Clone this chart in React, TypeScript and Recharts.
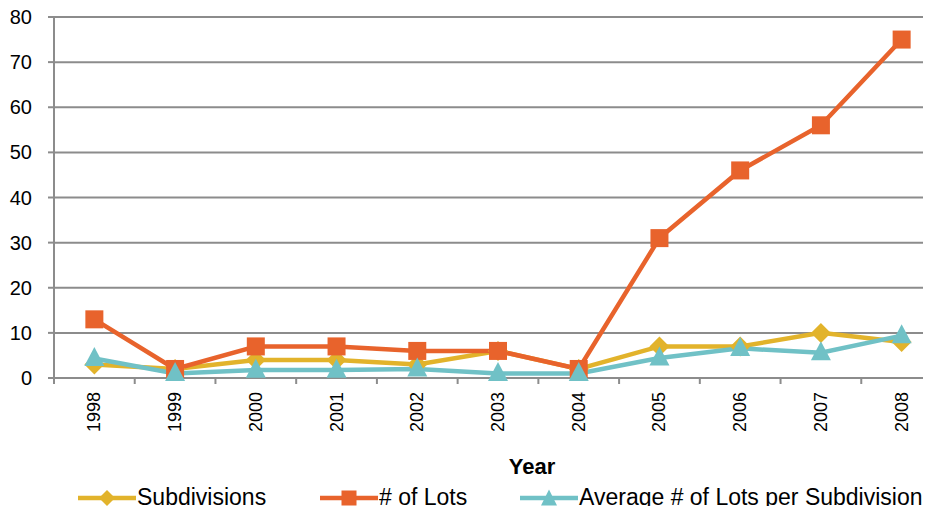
import { ComposedChart, Line, XAxis, YAxis, CartesianGrid, Legend, Label } from 'recharts'

const years = ['1998', '1999', '2000', '2001', '2002', '2003', '2004', '2005', '2006', '2007', '2008']
const subdivisions = [3, 2, 4, 4, 3, 6, 2, 7, 7, 10, 8]
const lots = [13, 2, 7, 7, 6, 6, 2, 31, 46, 56, 75]
const avgLots = [4.33, 1, 1.75, 1.75, 2, 1, 1, 4.43, 6.57, 5.6, 9.38]
const yTicks = [0, 10, 20, 30, 40, 50, 60, 70, 80]

const data = years.map((year, i) => ({
    year,
    subdivisions: subdivisions[i],
    lots: lots[i],
    avg: avgLots[i],
}))

const GOLD = '#E2B32B'
const ORANGE = '#E8632C'
const TEAL = '#70C1C6'
const GRID = '#8C8C8C'
const FONT = '"Liberation Sans", Arial, sans-serif'

const CHART_W = 942
const CHART_H = 514
const Y_AXIS_W = 54
const HALF_STEP = (CHART_W - Y_AXIS_W) / years.length / 2

const Diamond = ({ cx, cy, r = 10, color = GOLD }: any) => (
    <path d={`M${cx},${cy - r}L${cx + r},${cy}L${cx},${cy + r}L${cx - r},${cy}Z`} fill={color} />
)
const Square = ({ cx, cy, s = 18, color = ORANGE }: any) => (
    <rect x={cx - s / 2} y={cy - s / 2} width={s} height={s} fill={color} />
)
const Triangle = ({ cx, cy, w = 20, h = 19, color = TEAL }: any) => (
    <path d={`M${cx},${cy - h * 0.6}L${cx + w / 2},${cy + h * 0.4}L${cx - w / 2},${cy + h * 0.4}Z`} fill={color} />
)

const XTick = ({ x, y, payload, index }: any) => (
    <g>
        <line x1={x - HALF_STEP} x2={x - HALF_STEP} y1={y} y2={y + 6} stroke={GRID} strokeWidth={2} />
        {index === years.length - 1 && (
            <line x1={x + HALF_STEP} x2={x + HALF_STEP} y1={y} y2={y + 6} stroke={GRID} strokeWidth={2} />
        )}
        <text
            x={x}
            y={y + 14}
            transform={`rotate(-90, ${x}, ${y + 14})`}
            textAnchor="end"
            dominantBaseline="central"
            fontSize={18}
            fontFamily={FONT}
            fill="#000"
        >
            {payload.value}
        </text>
    </g>
)

const legendItems = [
    { label: 'Subdivisions', left: 78, color: GOLD, marker: 'diamond' },
    { label: '# of Lots', left: 320, color: ORANGE, marker: 'square' },
    { label: 'Average # of Lots per Subdivision', left: 520, color: TEAL, marker: 'triangle' },
]

const CustomLegend = () => (
    <div style={{ position: 'relative', width: CHART_W, height: 36 }}>
        {legendItems.map((item) => (
            <div
                key={item.label}
                style={{
                    position: 'absolute',
                    left: item.left,
                    top: 6,
                    display: 'flex',
                    alignItems: 'center',
                    whiteSpace: 'nowrap',
                }}
            >
                <svg width={58} height={22}>
                    <line x1={0} x2={58} y1={11} y2={11} stroke={item.color} strokeWidth={4.5} />
                    {item.marker === 'diamond' && <Diamond cx={29} cy={11} r={8} color={item.color} />}
                    {item.marker === 'square' && <Square cx={29} cy={11} s={15} color={item.color} />}
                    {item.marker === 'triangle' && <Triangle cx={29} cy={12} w={16} h={16} color={item.color} />}
                </svg>
                <span style={{ fontSize: 23, fontFamily: FONT, color: '#000', marginLeft: 1 }}>{item.label}</span>
            </div>
        ))}
    </div>
)

export default function App() {
    return (
        <div style={{ margin: -8, width: CHART_W, height: CHART_H, background: '#fff' }}>
            <ComposedChart
                width={CHART_W}
                height={CHART_H}
                data={data}
                margin={{ top: 17, right: 0, bottom: 0, left: 0 }}
            >
                <CartesianGrid vertical={false} stroke={GRID} strokeWidth={2} />
                <XAxis
                    dataKey="year"
                    scale="band"
                    height={100}
                    axisLine={{ stroke: GRID, strokeWidth: 2 }}
                    tickLine={false}
                    tickSize={0}
                    tickMargin={0}
                    interval={0}
                    tick={<XTick />}
                >
                    <Label
                        value="Year"
                        position="insideBottom"
                        offset={4}
                        dx={34}
                        style={{ fontSize: 22, fontWeight: 'bold', fontFamily: FONT, fill: '#000' }}
                    />
                </XAxis>
                <YAxis
                    width={Y_AXIS_W}
                    domain={[0, 80]}
                    ticks={yTicks}
                    interval={0}
                    axisLine={{ stroke: GRID, strokeWidth: 2 }}
                    tickLine={{ stroke: GRID, strokeWidth: 2 }}
                    tickSize={6}
                    tickMargin={16}
                    tick={{ fontSize: 20, fontFamily: FONT, fill: '#000' }}
                />
                <Legend verticalAlign="bottom" content={<CustomLegend />} wrapperStyle={{ left: 0, width: CHART_W }} />
                <Line
                    dataKey="subdivisions"
                    name="Subdivisions"
                    stroke={GOLD}
                    strokeWidth={4.5}
                    isAnimationActive={false}
                    dot={(p: any) => <Diamond key={`d${p.index}`} cx={p.cx} cy={p.cy} />}
                    activeDot={false}
                />
                <Line
                    dataKey="lots"
                    name="# of Lots"
                    stroke={ORANGE}
                    strokeWidth={4.5}
                    isAnimationActive={false}
                    dot={(p: any) => <Square key={`s${p.index}`} cx={p.cx} cy={p.cy} />}
                    activeDot={false}
                />
                <Line
                    dataKey="avg"
                    name="Average # of Lots per Subdivision"
                    stroke={TEAL}
                    strokeWidth={4.5}
                    isAnimationActive={false}
                    dot={(p: any) => <Triangle key={`t${p.index}`} cx={p.cx} cy={p.cy} />}
                    activeDot={false}
                />
            </ComposedChart>
        </div>
    )
}
